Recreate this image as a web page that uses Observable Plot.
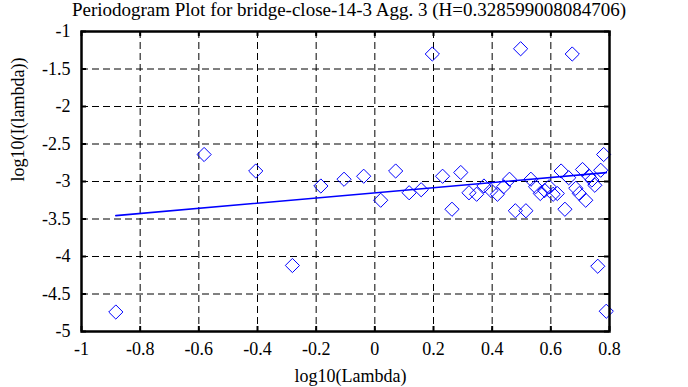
<!DOCTYPE html>
<html><head><meta charset="utf-8">
<script src="https://cdn.jsdelivr.net/npm/d3@7"></script>
<script src="https://cdn.jsdelivr.net/npm/@observablehq/plot@0.6"></script>
<style>
body{margin:0;background:#fff;}
#title{font-family:"Liberation Serif",serif;font-size:19px;height:20px;line-height:20px;text-align:center;padding-left:10px;width:678px;white-space:nowrap;color:#000;}
</style></head><body>
<div id="title">Periodogram Plot for bridge-close-14-3 Agg. 3 (H=0.328599008084706)</div>
<div id="chart"></div>
<script>
const logLambda = [-0.883,-0.582,-0.406,-0.281,-0.184,-0.105,-0.038,0.020,0.071,0.117,0.158,0.196,0.231,0.263,0.293,0.321,0.347,0.372,0.396,0.418,0.439,0.459,0.479,0.497,0.515,0.532,0.548,0.564,0.579,0.594,0.608,0.622,0.635,0.648,0.661,0.673,0.685,0.697,0.708,0.719,0.730,0.740,0.750,0.760,0.770,0.780,0.789];
const logI = [-4.74,-2.64,-2.86,-4.12,-3.06,-2.97,-2.93,-3.25,-2.86,-3.15,-3.11,-1.30,-2.93,-3.37,-2.88,-3.15,-3.17,-3.06,-3.12,-3.17,-3.07,-2.97,-3.39,-1.23,-3.39,-2.97,-3.07,-3.16,-3.12,-3.07,-3.17,-3.16,-2.86,-3.37,-2.95,-1.30,-3.09,-3.16,-2.84,-3.25,-2.93,-2.98,-3.05,-4.13,-2.85,-2.64,-4.73];
const fitIntercept = -3.152;
const fitSlope = 0.3428;
const xTicks = [-1,-0.8,-0.6,-0.4,-0.2,0,0.2,0.4,0.6,0.8];
const yTicks = [-1,-1.5,-2,-2.5,-3,-3.5,-4,-4.5,-5];
const xLabel = "log10(Lambda)";
const yLabel = "log10(I(lambda))";

const W = 688, H = 367, mL = 81, mR = 79, mT = 11, mB = 56;
const pw = W - mL - mR, ph = H - mT - mB;
const points = logLambda.map((x, i) => ({x, y: logI[i]}));
const fit = d3.extent(logLambda).map(x => ({x, y: fitIntercept + fitSlope * x}));
const fmt = d => String(Math.round(d * 10) / 10);
const font = "Liberation Serif";
const blue = "#0000ff";

const plot = Plot.plot({
  width: W, height: H,
  marginLeft: mL, marginRight: mR, marginTop: mT, marginBottom: mB,
  style: {fontFamily: font, fontSize: "18px", color: "black", background: "white"},
  x: {domain: [-1, 0.8]},
  y: {domain: [-5, -1]},
  marks: [
    Plot.ruleX(xTicks, {x: d => d, stroke: "black", strokeWidth: 1, strokeDasharray: "7,4"}),
    Plot.ruleY(yTicks, {y: d => d, stroke: "black", strokeWidth: 1, strokeDasharray: "7,4"}),
    Plot.line(fit, {x: "x", y: "y", stroke: blue, strokeWidth: 1.6}),
    Plot.dot(points, {x: "x", y: "y", symbol: "diamond2", r: 6.4, stroke: blue, strokeWidth: 1, fill: "none"}),
    Plot.tickX(xTicks, {x: d => d, insetTop: ph - 5, stroke: "black", strokeWidth: 2}),
    Plot.tickX(xTicks, {x: d => d, insetBottom: ph - 5, stroke: "black", strokeWidth: 2}),
    Plot.tickY(yTicks, {y: d => d, insetRight: pw - 5, stroke: "black", strokeWidth: 2}),
    Plot.tickY(yTicks, {y: d => d, insetLeft: pw - 5, stroke: "black", strokeWidth: 2}),
    Plot.frame({stroke: "black", strokeWidth: 2.5}),
    Plot.axisX(xTicks, {tickSize: 0, tickPadding: 11, tickFormat: fmt, label: null, fontSize: 18, fill: "black"}),
    Plot.axisY(yTicks, {tickSize: 0, tickPadding: 11, tickFormat: fmt, label: null, fontSize: 18, fill: "black"}),
    Plot.text([xLabel], {text: d => d, frameAnchor: "bottom", dy: 45, dx: 5, lineAnchor: "middle", fontSize: 18, fill: "black"}),
    Plot.text([yLabel], {text: d => d, frameAnchor: "left", dx: -63, rotate: -90, lineAnchor: "middle", fontSize: 18, fill: "black"})
  ]
});
document.getElementById("chart").appendChild(plot);
</script>
</body></html>
